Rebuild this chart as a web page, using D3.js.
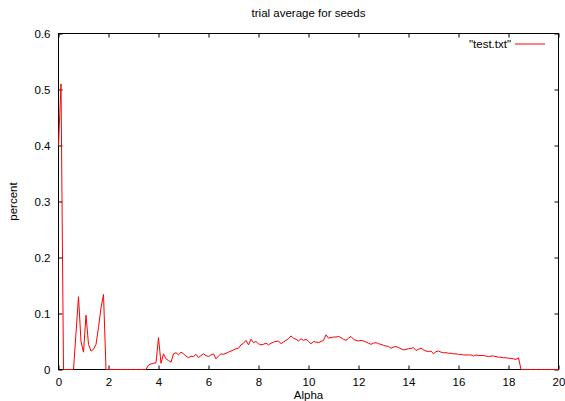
<!DOCTYPE html>
<html>
<head>
<meta charset="utf-8">
<script src="https://cdn.jsdelivr.net/npm/d3@7"></script>
<style>
  html, body { margin: 0; padding: 0; background: #fff; }
  svg { display: block; font-family: "Liberation Sans", Arial, sans-serif; }
</style>
</head>
<body>
<svg id="chart" width="565" height="401"></svg>
<script>
const title = "trial average for seeds";
const xLabel = "Alpha";
const yLabel = "percent";
const legendLabel = "\"test.txt\"";
const xTicks = [0, 2, 4, 6, 8, 10, 12, 14, 16, 18, 20];
const yTicks = [0, 0.1, 0.2, 0.3, 0.4, 0.5, 0.6];
const alphaStep = 0.1;
// percent sampled at alpha = 0, 0.1, 0.2, ... 20
const percent = [
  0.40, 0.51, 0, 0, 0, 0, 0, 0.065, 0.130, 0.050,
  0.031, 0.097, 0.045, 0.033, 0.036, 0.045, 0.075, 0.110, 0.134, 0,
  0, 0, 0, 0, 0, 0, 0, 0, 0, 0,
  0, 0, 0, 0, 0, 0, 0.008, 0.010, 0.011, 0.012,
  0.057, 0.011, 0.028, 0.019, 0.016, 0.013, 0.028, 0.030, 0.026, 0.031,
  0.028, 0.024, 0.021, 0.024, 0.023, 0.027, 0.021, 0.025, 0.028, 0.025,
  0.023, 0.026, 0.028, 0.019, 0.024, 0.028, 0.027, 0.029, 0.031, 0.033,
  0.035, 0.037, 0.038, 0.044, 0.047, 0.052, 0.044, 0.054, 0.048, 0.050,
  0.046, 0.044, 0.045, 0.047, 0.044, 0.047, 0.049, 0.050, 0.051, 0.046,
  0.049, 0.052, 0.055, 0.060, 0.056, 0.054, 0.051, 0.055, 0.052, 0.054,
  0.050, 0.046, 0.050, 0.049, 0.048, 0.050, 0.052, 0.062, 0.056, 0.057,
  0.058, 0.058, 0.059, 0.057, 0.054, 0.052, 0.056, 0.059, 0.054, 0.052,
  0.051, 0.052, 0.051, 0.049, 0.047, 0.045, 0.047, 0.048, 0.046, 0.045,
  0.043, 0.042, 0.041, 0.038, 0.040, 0.041, 0.039, 0.037, 0.035, 0.036,
  0.037, 0.038, 0.039, 0.034, 0.036, 0.038, 0.035, 0.033, 0.032, 0.033,
  0.028, 0.032, 0.033, 0.031, 0.030, 0.030, 0.029, 0.029, 0.028, 0.028,
  0.027, 0.027, 0.026, 0.026, 0.026, 0.026, 0.024, 0.026, 0.025, 0.025,
  0.025, 0.024, 0.023, 0.024, 0.024, 0.023, 0.022, 0.022, 0.021, 0.021,
  0.020, 0.020, 0.019, 0.018, 0.021, 0, 0, 0, 0, 0,
  0, 0, 0, 0, 0, 0, 0, 0, 0, 0,
  0
];

const svg = d3.select("#chart");
const W = 565, H = 401;
const m = { left: 58.5, right: 6.5, top: 33.5, bottom: 31.5 };
const x = d3.scaleLinear().domain([0, 20]).range([m.left, W - m.right]);
const y = d3.scaleLinear().domain([0, 0.6]).range([H - m.bottom, m.top]);
const tickLen = 4;
const fontTick = "11.5px";
const fontLabel = "11.5px";

const g = svg.append("g");

const axBottom = d3.axisBottom(x).tickValues(xTicks).tickFormat(d3.format("d")).tickSizeInner(-tickLen).tickSizeOuter(0).tickPadding(8);
const axTop = d3.axisTop(x).tickValues(xTicks).tickFormat("").tickSizeInner(-tickLen).tickSizeOuter(0);
const axLeft = d3.axisLeft(y).tickValues(yTicks).tickFormat(d => d === 0 ? "0" : d3.format(".1f")(d)).tickSizeInner(-tickLen).tickSizeOuter(0).tickPadding(8);
const axRight = d3.axisRight(y).tickValues(yTicks).tickFormat("").tickSizeInner(-tickLen).tickSizeOuter(0);

function styleAxis(sel) {
  sel.select(".domain").remove();
  sel.selectAll("line").attr("stroke", "#000");
  sel.selectAll("text").attr("fill", "#000").style("font-size", fontTick).style("font-family", "'Liberation Sans', Arial, sans-serif");
}
g.append("g").attr("transform", `translate(0,${y(0)})`).call(axBottom).call(styleAxis);
g.append("g").attr("transform", `translate(0,${y(0.6)})`).call(axTop).call(styleAxis);
g.append("g").attr("transform", `translate(${x(0)},0)`).call(axLeft).call(styleAxis);
g.append("g").attr("transform", `translate(${x(20)},0)`).call(axRight).call(styleAxis);

g.append("rect")
  .attr("x", x(0)).attr("y", y(0.6))
  .attr("width", x(20) - x(0)).attr("height", y(0) - y(0.6))
  .attr("fill", "none").attr("stroke", "#000").attr("stroke-width", 1);

const data = percent.map((v, i) => ({ a: +(i * alphaStep).toFixed(1), p: v }));
const line = d3.line().x(d => x(d.a)).y(d => y(d.p));
g.append("path")
  .datum(data)
  .attr("d", line)
  .attr("fill", "none")
  .attr("stroke", "#ff0000")
  .attr("stroke-width", 1);

svg.append("text").attr("x", (x(0) + x(20)) / 2).attr("y", 17)
  .attr("text-anchor", "middle").style("font-size", fontLabel).text(title);
svg.append("text").attr("x", (x(0) + x(20)) / 2).attr("y", 399)
  .attr("text-anchor", "middle").style("font-size", fontLabel).text(xLabel);
svg.append("text").attr("transform", `translate(17,${(y(0) + y(0.6)) / 2}) rotate(-90)`)
  .attr("text-anchor", "middle").style("font-size", fontLabel).text(yLabel);

const ly = 44;
svg.append("text").attr("x", 511).attr("y", ly + 4)
  .attr("text-anchor", "end").style("font-size", fontLabel).text(legendLabel);
svg.append("line").attr("x1", 515).attr("x2", 545).attr("y1", ly).attr("y2", ly)
  .attr("stroke", "#ff0000").attr("stroke-width", 1);
</script>
</body>
</html>
